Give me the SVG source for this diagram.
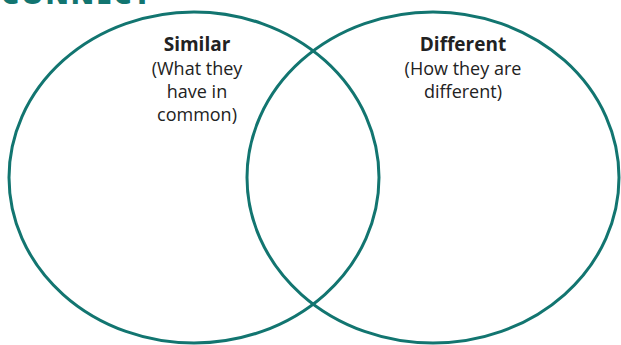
<svg xmlns="http://www.w3.org/2000/svg" width="621" height="345" viewBox="0 0 621 345">
  <style>
    .ring { fill: none; stroke: #127570; stroke-width: 3; }
    .head { font-family: "Open Sans", "Liberation Sans", sans-serif; font-weight: 700; font-size: 19px; fill: #222; text-anchor: middle; }
    .sub { font-family: "Open Sans", "Liberation Sans", sans-serif; font-weight: 500; font-size: 18px; fill: #222; text-anchor: middle; }
    .title { font-family: "Open Sans", "Liberation Sans", sans-serif; font-weight: 800; font-size: 28px; fill: #127570; letter-spacing: 2px; }
  </style>
  <rect width="621" height="345" fill="#ffffff"/>
  <text class="title" x="1" y="4">CONNECT</text>
  <g id="similar">
    <ellipse class="ring" cx="194" cy="177.5" rx="185" ry="165.5"/>
    <text class="head" x="197" y="51">Similar</text>
    <text class="sub" x="197" y="75">(What they</text>
    <text class="sub" x="197" y="98">have in</text>
    <text class="sub" x="197" y="121">common)</text>
  </g>
  <g id="different">
    <ellipse class="ring" cx="433" cy="177.5" rx="186" ry="165.5"/>
    <text class="head" x="463" y="51">Different</text>
    <text class="sub" x="463" y="75">(How they are</text>
    <text class="sub" x="463" y="98">different)</text>
  </g>
  <g id="connectors"></g>
</svg>
